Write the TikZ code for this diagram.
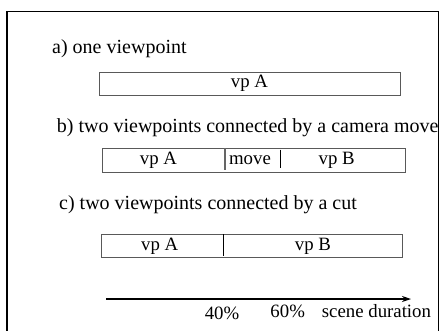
\documentclass[tikz,border=0pt]{standalone}
\usepackage{fontspec}
\setmainfont{Liberation Serif}
\usetikzlibrary{arrows.meta}
\begin{document}
\begin{tikzpicture}[x=1pt,y=-1pt,
  title/.style={anchor=base west, inner sep=0pt, font=\fontsize{20}{24}\selectfont},
  lab/.style={anchor=base, inner sep=0pt, font=\fontsize{18.8}{22}\selectfont},
  bar/.style={draw=black!65, line width=1.1pt, inner sep=0pt, anchor=north west},
  divg/.style={draw=black!60, line width=1.1pt},
  divk/.style={draw=black, line width=0.8pt},
  frame/.style={line width=1.8pt},
  axis/.style={line width=1.1pt, -{Stealth[length=9pt,width=6pt]}}]
\useasboundingbox (0,0) rectangle (443,330);
\clip (0,0) rectangle (443,330);

% a) one viewpoint
\node[title] (ta) at (52,53) {a) one viewpoint};
\node[bar, minimum width=301pt, minimum height=23pt] (barA) at (99,72) {};
\node[lab] (aA) at (249.5,87) {vp A};

% b) camera move
\node[title] (tb) at (56.7,132.5) {b) two viewpoints connected by a camera move};
\node[bar, minimum width=303pt, minimum height=24pt] (barB) at (102,148) {};
\coordinate (b1t) at (225,148);
\coordinate (b1b) at (225,170);
\coordinate (b2t) at (280,149.5);
\coordinate (b2b) at (280,168);
\draw[divg] (b1t) -- (b1b);
\draw[divk] (b2t) -- (b2b);
\node[lab] (bA) at (158.5,164.3) {vp A};
\node[lab] (bM) at (250,164.3) {move};
\node[lab] (bB) at (336.7,164.3) {vp B};

% c) cut
\node[title] (tc) at (59,209.5) {c) two viewpoints connected by a cut};
\node[bar, minimum width=301pt, minimum height=23pt] (barC) at (101,234) {};
\coordinate (c1t) at (223,234);
\coordinate (c1b) at (223,255.5);
\draw[divk] (c1t) -- (c1b);
\node[lab] (cA) at (159.7,250) {vp A};
\node[lab] (cB) at (313,250) {vp B};

% time axis
\coordinate (as) at (106,299);
\coordinate (ae) at (411,299);
\draw[axis] (as) -- (ae);
\node[lab] (p40) at (222,319.5) {40\%};
\node[lab] (p60) at (287.7,317.3) {60\%};
\node[lab, anchor=base west] (sd) at (321.7,317.3) {scene duration};

% outer frame
\coordinate (fbl) at (7,332);
\coordinate (ftl) at (7,11.5);
\coordinate (ftr) at (438.5,11.5);
\coordinate (fbr) at (438.5,332);
\draw[frame] (fbl) -- (ftl) -- (ftr) -- (fbr);
\end{tikzpicture}
\end{document}
